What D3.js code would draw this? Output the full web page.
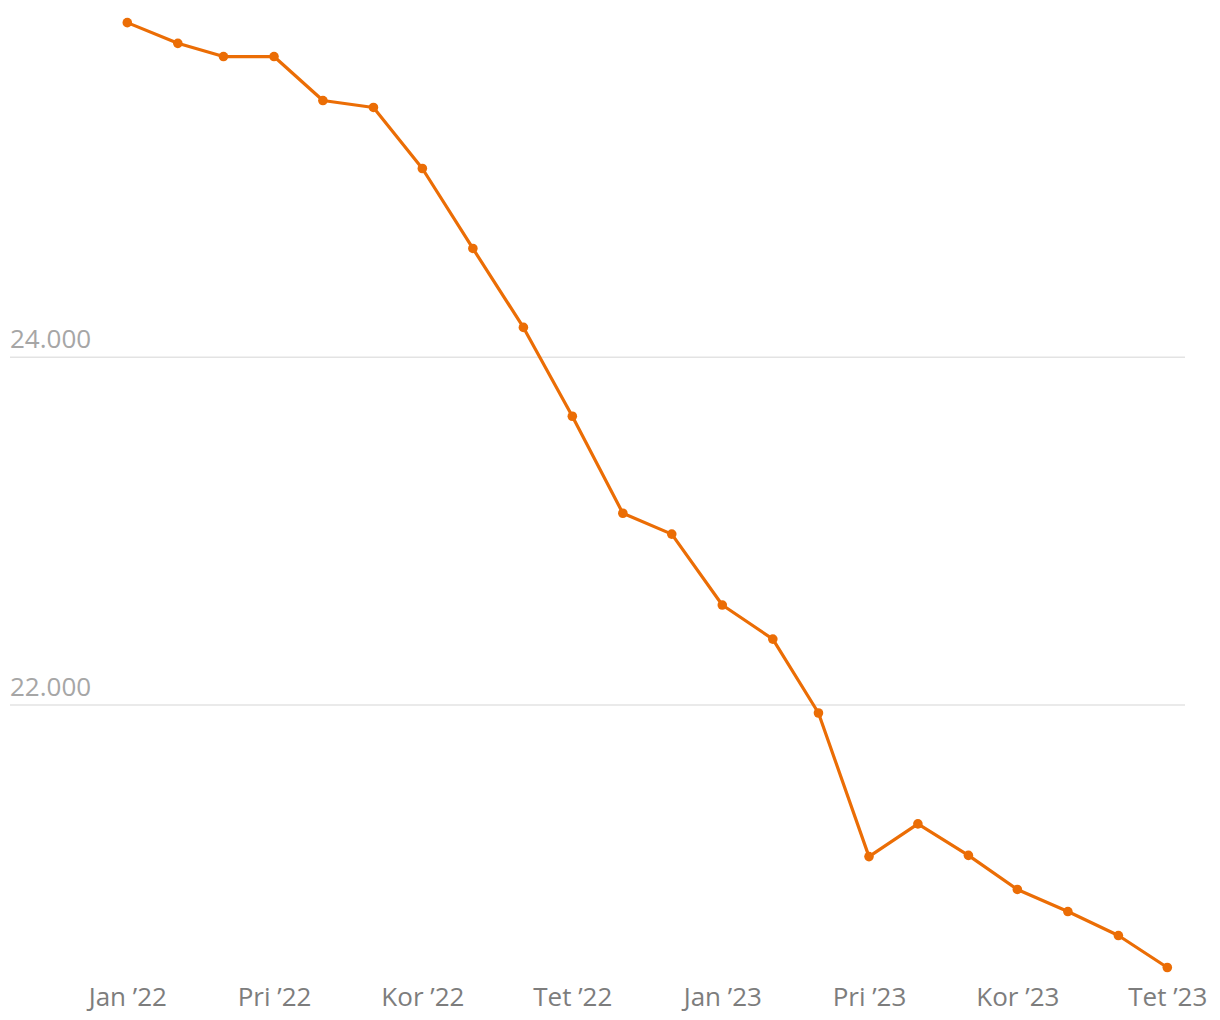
<html>
<script src="https://d3js.org/d3.v7.min.js"></script>
<style>
    body { margin: 0; background: #fff; font-family: 'Open Sans', sans-serif; }
</style>
<body>
<svg id="chart" width="1220" height="1020"></svg>
<script>
    // monthly observations, Jan 2022 .. Oct 2023
    const dates = ['2022-01', '2022-02', '2022-03', '2022-04', '2022-05', '2022-06', '2022-07', '2022-08',
                   '2022-09', '2022-10', '2022-11', '2022-12', '2023-01', '2023-02', '2023-03', '2023-04',
                   '2023-05', '2023-06', '2023-07', '2023-08', '2023-09', '2023-10'];
    const values = [25925, 25806, 25730, 25730, 25477, 25437, 25086, 24626, 24172, 23661, 23103,
                    22983, 22575, 22379, 21954, 21128, 21316, 21135, 20939, 20812, 20674, 20490];
    const yTicks = [22000, 24000];
    const xTicks = ['2022-01', '2022-04', '2022-07', '2022-10', '2023-01', '2023-04', '2023-07', '2023-10'];
    // Albanian month abbreviations
    const monthNames = ['Jan', 'Shk', 'Mar', 'Pri', 'Maj', 'Qer', 'Kor', 'Gus', 'Sht', 'Tet', 'Nën', 'Dhj'];

    const parse = d3.timeParse("%Y-%m");
    const data = dates.map((d, i) => ({date: parse(d), value: values[i]}));

    const svg = d3.select("svg#chart");

    let xScale = d3.scaleTime()
        .domain([parse(dates[0]), parse(dates[dates.length - 1])])
        .range([127.3, 1167.3]);

    let yScale = d3.scaleLinear()
        .domain([22000, 24000])
        .range([705, 357.3]);

    const fmt = d => d3.format(",")(d).replace(/,/g, ".");

    // gridlines + y labels
    const grid = svg.append("g");
    grid.selectAll("line")
        .data(yTicks)
        .enter().append("line")
        .attr("x1", 10)
        .attr("x2", 1185)
        .attr("y1", d => yScale(d))
        .attr("y2", d => yScale(d))
        .attr("stroke", "#e3e3e3")
        .attr("stroke-width", 1.5);

    grid.selectAll("text")
        .data(yTicks)
        .enter().append("text")
        .attr("x", 10)
        .attr("y", d => yScale(d) - 9)
        .attr("fill", "#a6a6a6")
        .attr("font-size", 26)
        .text(fmt);

    // x labels, every 3rd month
    const xAxis = d3.axisBottom(xScale)
        .tickValues(xTicks.map(parse))
        .tickFormat(d => monthNames[d.getMonth()] + " \u2019" + String(d.getFullYear()).slice(2))
        .tickSize(0)
        .tickPadding(0);

    const xg = svg.append("g")
        .attr("transform", "translate(0, 1006)")
        .call(xAxis);
    xg.select(".domain").remove();
    xg.selectAll("text")
        .attr("dy", 0)
        .attr("fill", "#7d7d7d")
        .attr("font-size", 26)
        .attr("font-family", "'Open Sans', sans-serif");

    const line = d3.line()
        .x(d => xScale(d.date))
        .y(d => yScale(d.value));

    svg.append("path")
        .datum(data)
        .attr("d", line)
        .attr("fill", "none")
        .attr("stroke", "#eb6d05")
        .attr("stroke-width", 3.2)
        .attr("stroke-linejoin", "round");

    svg.selectAll(".dot")
        .data(data)
        .enter().append("circle")
        .attr("class", "dot")
        .attr("cx", d => xScale(d.date))
        .attr("cy", d => yScale(d.value))
        .attr("r", 4.8)
        .attr("fill", "#eb6d05");
</script>
</body>
</html>
